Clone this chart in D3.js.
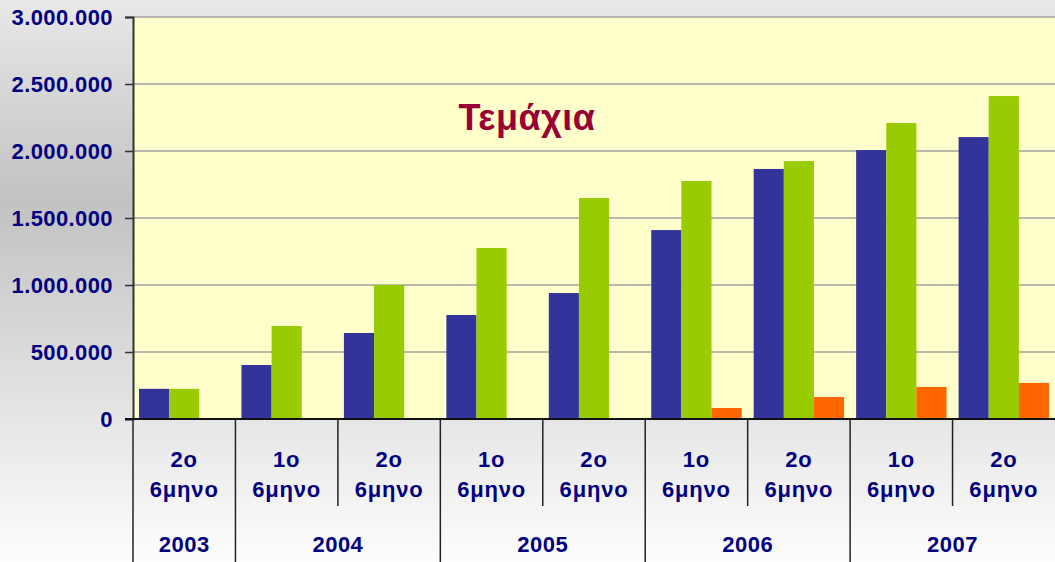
<!DOCTYPE html>
<html>
<head>
<meta charset="utf-8">
<script src="https://cdn.jsdelivr.net/npm/d3@7"></script>
<style>
  html, body { margin: 0; padding: 0; overflow: hidden; }
  text { font-family: "Liberation Sans", Arial, sans-serif; font-weight: bold; }
</style>
</head>
<body>
<div id="chart"></div>
<script>
// half-year periods and their years
var periods = ["2o", "1o", "2o", "1o", "2o", "1o", "2o", "1o", "2o"];
var years = ["2003", "2004", "2004", "2005", "2005", "2006", "2006", "2007", "2007"];
var seriesNames = ["blue", "green", "orange"];
var blueValues = [225000, 403000, 642000, 776000, 940000, 1410000, 1866000, 2007000, 2104000];
var greenValues = [225000, 694000, 1000000, 1276000, 1649000, 1776000, 1925000, 2209000, 2410000];
var orangeValues = [0, 0, 0, 0, 0, 82000, 164000, 239000, 269000];
var yTicks = [0, 500000, 1000000, 1500000, 2000000, 2500000, 3000000];
var title = "Τεμάχια";

var colors = { blue: "#333399", green: "#99CC00", orange: "#FF6600" };

var width = 1055, height = 562;
var margin = { top: 17, right: 0, bottom: 143, left: 133 };
var plotW = width - margin.left - margin.right;
var plotH = height - margin.top - margin.bottom;

var rows = periods.map(function (p, i) {
    return { idx: i, period: p, year: years[i],
             blue: blueValues[i], green: greenValues[i], orange: orangeValues[i] };
});

var svg = d3.select("#chart").append("svg")
    .attr("width", width)
    .attr("height", height);

// background gradient
var grad = svg.append("defs").append("linearGradient")
    .attr("id", "bg").attr("x1", 0).attr("y1", 0).attr("x2", 0).attr("y2", 1);
grad.append("stop").attr("offset", "0").attr("stop-color", "#e8e8e8");
grad.append("stop").attr("offset", "0.36").attr("stop-color", "#c2c2c2");
grad.append("stop").attr("offset", "0.75").attr("stop-color", "#e6e6e6");
grad.append("stop").attr("offset", "1").attr("stop-color", "#fdfdfd");
svg.append("rect").attr("width", width).attr("height", height).attr("fill", "url(#bg)");

var g = svg.append("g")
    .attr("transform", "translate(" + margin.left + "," + margin.top + ")");

var x0 = d3.scaleBand()
    .domain(rows.map(function (d) { return d.idx; }))
    .range([0, plotW]);

var x1 = d3.scaleBand()
    .domain(seriesNames)
    .range([0, x0.bandwidth()])
    .paddingInner(0)
    .paddingOuter(0.2);

var y = d3.scaleLinear()
    .domain([0, 3000000])
    .range([plotH, 0]);

var locale = d3.formatLocale({ decimal: ",", thousands: ".", grouping: [3], currency: ["", "€"] });
var fmt = locale.format(",d");

// plot area
g.append("rect")
    .attr("width", plotW)
    .attr("height", plotH)
    .attr("fill", "#FFFFCC");

// gridlines
g.selectAll(".grid")
    .data(yTicks.slice(1))
    .enter()
    .append("line")
    .attr("x1", 0).attr("x2", plotW)
    .attr("y1", function (d) { return y(d); })
    .attr("y2", function (d) { return y(d); })
    .attr("stroke", "#a0a0a0")
    .attr("stroke-width", 1.5);

// bars
var groups = g.selectAll(".cat")
    .data(rows)
    .enter()
    .append("g")
    .attr("transform", function (d) { return "translate(" + x0(d.idx) + ",0)"; });

groups.selectAll("rect")
    .data(function (d) { return seriesNames.map(function (s) { return { key: s, value: d[s] }; }); })
    .enter()
    .append("rect")
    .attr("x", function (d) { return x1(d.key); })
    .attr("y", function (d) { return y(d.value); })
    .attr("width", x1.bandwidth())
    .attr("height", function (d) { return plotH - y(d.value); })
    .attr("fill", function (d) { return colors[d.key]; });

// y axis
var yAxis = g.append("g")
    .call(d3.axisLeft(y).tickValues(yTicks).tickFormat(fmt).tickSize(8).tickPadding(12));
yAxis.select(".domain").attr("stroke", "#333").attr("stroke-width", 2);
yAxis.selectAll(".tick line").attr("stroke", "#333").attr("stroke-width", 1.5);
yAxis.selectAll(".tick text")
    .attr("fill", "#000080")
    .attr("font-size", 22)
    .attr("letter-spacing", 0.4)
    .attr("font-family", "Liberation Sans, Arial, sans-serif")
    .attr("font-weight", "bold");

// x axis line
g.append("line")
    .attr("x1", -8).attr("x2", plotW)
    .attr("y1", plotH).attr("y2", plotH)
    .attr("stroke", "#111").attr("stroke-width", 2);

// category separators: short ones inside a year, long ones between years
var bounds = d3.range(0, rows.length).map(function (i) {
    var longLine = i === 0 || years[i] !== years[i - 1];
    return { x: x0(i), longLine: longLine };
});
g.selectAll(".sep")
    .data(bounds)
    .enter()
    .append("line")
    .attr("x1", function (d) { return d.x; })
    .attr("x2", function (d) { return d.x; })
    .attr("y1", plotH)
    .attr("y2", function (d) { return d.longLine ? height - margin.top : 506 - margin.top; })
    .attr("stroke", "#222")
    .attr("stroke-width", 1.5);

// period labels
var labelColor = "#000080";
g.selectAll(".period")
    .data(rows)
    .enter()
    .append("text")
    .attr("x", function (d) { return x0(d.idx) + x0.bandwidth() / 2; })
    .attr("y", 467 - margin.top)
    .attr("text-anchor", "middle")
    .attr("fill", labelColor)
    .attr("font-size", 22)
    .attr("letter-spacing", 0.8)
    .text(function (d) { return d.period; });

g.selectAll(".period2")
    .data(rows)
    .enter()
    .append("text")
    .attr("x", function (d) { return x0(d.idx) + x0.bandwidth() / 2; })
    .attr("y", 497 - margin.top)
    .attr("text-anchor", "middle")
    .attr("fill", labelColor)
    .attr("font-size", 22)
    .attr("letter-spacing", 0.8)
    .text("6μηνο");

// year labels, centred under their periods
var yearGroups = d3.groups(rows, function (d) { return d.year; });
g.selectAll(".year")
    .data(yearGroups)
    .enter()
    .append("text")
    .attr("x", function (d) {
        var first = d[1][0].idx, last = d[1][d[1].length - 1].idx;
        return (x0(first) + x0(last) + x0.bandwidth()) / 2;
    })
    .attr("y", 552 - margin.top)
    .attr("text-anchor", "middle")
    .attr("fill", labelColor)
    .attr("font-size", 22)
    .attr("letter-spacing", 0.5)
    .text(function (d) { return d[0]; });

// title inside the plot
g.append("text")
    .attr("x", 527 - margin.left)
    .attr("y", 130 - margin.top)
    .attr("text-anchor", "middle")
    .attr("fill", "#990033")
    .attr("font-size", 36)
    .attr("letter-spacing", 0.5)
    .text(title);
</script>
</body>
</html>
